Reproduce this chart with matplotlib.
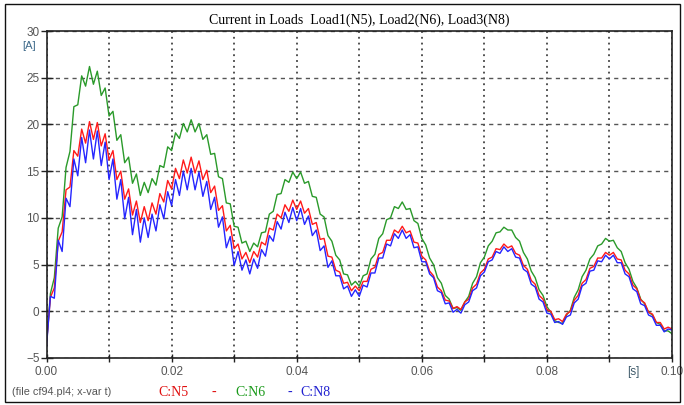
import numpy as np
import matplotlib
matplotlib.use("Agg")
import matplotlib.pyplot as plt
from matplotlib.patches import Rectangle

# samples, one every 0.625 ms from 0 to 0.1 s
sample_period = 0.000625

n6 = [-3.5, 1.9, 3.6, 8.9, 10.1, 15.4, 17.1, 21.9, 22.1, 25.2, 24.1, 26.2, 24.3, 25.7, 23.1, 23.9,
      20.9, 21.4, 18.3, 18.9, 15.9, 16.5, 13.7, 14.7, 12.4, 13.8, 12.7, 14.2, 13.5, 15.6, 15.4, 17.6,
      17.2, 19.1, 18.5, 20.1, 19.2, 20.5, 19.2, 20.1, 18.4, 18.9, 16.8, 16.9, 14.4, 14.2, 11.6, 11.5,
      9.1, 9.0, 7.3, 7.5, 6.4, 7.3, 6.9, 8.4, 8.5, 10.4, 10.7, 12.5, 12.6, 14.1, 13.8, 14.9,
      14.2, 14.9, 13.7, 13.9, 12.3, 12.2, 10.4, 10.1, 8.1, 7.5, 6.0, 5.5, 4.0, 3.9, 2.8, 3.2,
      2.7, 3.8, 4.0, 5.6, 6.1, 7.8, 8.3, 9.8, 10.0, 11.2, 11.0, 11.7, 10.9, 11.0, 9.7, 9.4,
      7.8, 7.1, 5.7, 5.0, 3.6, 3.0, 1.7, 1.3, 0.3, 0.4, 0.1, 1.0, 1.6, 3.0, 3.7, 5.2,
      5.8, 7.0, 7.5, 8.4, 8.5, 9.0, 8.7, 8.7, 7.9, 7.5, 6.3, 5.6, 4.3, 3.6, 2.3, 1.7,
      0.5, -0.1, -1.0, -1.2, -1.3, -0.4, 0.1, 1.5, 2.3, 3.7, 4.4, 5.6, 6.1, 7.0, 7.2, 7.8,
      7.5, 7.6, 6.8, 6.4, 5.2, 4.5, 3.2, 2.5, 1.3, 0.8, -0.1, -0.4, -1.2, -1.4, -2.1, -2.1,
      -2.4]

n5 = [-3.5, 1.5, 2.5, 7.5, 8.5, 13.0, 13.3, 17.2, 16.6, 19.5, 18.0, 20.3, 18.4, 20.2, 17.7, 19.0,
      16.2, 17.2, 14.1, 15.0, 12.0, 13.1, 10.3, 11.8, 9.5, 11.2, 9.7, 11.6, 10.4, 12.6, 11.7, 14.0,
      13.1, 15.3, 14.2, 16.2, 14.8, 16.5, 14.8, 16.1, 14.1, 15.1, 12.7, 13.4, 10.8, 11.3, 8.6, 9.2,
      6.7, 7.2, 5.6, 6.3, 5.2, 6.4, 5.8, 7.4, 7.1, 8.9, 8.7, 10.4, 10.0, 11.4, 10.7, 11.9,
      10.9, 11.8, 10.5, 11.0, 9.3, 9.5, 7.7, 7.8, 5.9, 5.8, 4.4, 4.2, 3.0, 3.1, 2.2, 2.7,
      2.2, 3.2, 3.2, 4.5, 4.7, 6.1, 6.3, 7.6, 7.6, 8.7, 8.4, 9.1, 8.4, 8.6, 7.4, 7.3,
      5.9, 5.5, 4.3, 3.8, 2.6, 2.2, 1.2, 1.1, 0.3, 0.5, 0.2, 1.0, 1.3, 2.5, 2.9, 4.1,
      4.5, 5.6, 5.8, 6.7, 6.6, 7.2, 6.8, 7.0, 6.2, 6.0, 4.9, 4.5, 3.3, 2.9, 1.7, 1.3,
      0.2, 0.0, -0.9, -0.8, -1.1, -0.3, 0.0, 1.2, 1.7, 3.0, 3.4, 4.6, 4.8, 5.7, 5.7, 6.3,
      6.0, 6.3, 5.6, 5.5, 4.4, 4.0, 2.8, 2.4, 1.2, 0.9, -0.1, -0.3, -1.2, -1.2, -1.9, -1.7,
      -1.9]

n8 = [-3.8, 1.6, 1.4, 7.6, 6.4, 12.1, 11.2, 16.3, 14.5, 18.6, 15.9, 19.4, 16.3, 19.3, 15.6, 18.1,
      14.1, 16.3, 12.0, 14.1, 9.9, 12.2, 8.2, 10.9, 7.4, 10.0, 7.9, 10.4, 8.6, 11.4, 9.9, 12.8,
      11.3, 14.1, 12.4, 15.0, 13.0, 15.3, 13.0, 14.9, 12.3, 13.9, 10.9, 12.2, 9.0, 10.1, 6.8, 8.0,
      4.9, 6.4, 4.4, 5.5, 4.0, 5.6, 4.6, 6.6, 5.9, 8.1, 7.5, 9.6, 8.8, 10.6, 9.5, 11.1,
      9.7, 11.0, 9.3, 10.2, 8.1, 8.7, 6.5, 7.0, 4.7, 5.4, 3.8, 3.8, 2.4, 2.7, 1.6, 2.3,
      1.6, 2.8, 2.6, 4.1, 4.1, 5.7, 5.7, 7.2, 7.0, 8.3, 7.8, 8.7, 7.8, 8.2, 6.8, 6.9,
      5.3, 5.3, 4.0, 3.6, 2.2, 2.0, 0.8, 0.9, -0.1, 0.2, -0.2, 0.7, 1.0, 2.2, 2.5, 3.8,
      4.2, 5.3, 5.5, 6.4, 6.2, 6.9, 6.4, 6.7, 5.8, 5.7, 4.5, 4.2, 2.9, 2.6, 1.3, 1.0,
      -0.2, -0.3, -1.2, -1.1, -1.4, -0.6, -0.4, 0.9, 1.3, 2.7, 3.0, 4.3, 4.4, 5.4, 5.3, 6.0,
      5.6, 6.0, 5.2, 5.2, 4.0, 3.7, 2.4, 2.1, 0.8, 0.6, -0.4, -0.6, -1.5, -1.5, -2.2, -1.9,
      -2.0]

t = np.arange(len(n5)) * sample_period

x_ticks = [0.00, 0.01, 0.02, 0.03, 0.04, 0.05, 0.06, 0.07, 0.08, 0.09, 0.10]
x_labels = ["0.00", "", "0.02", "", "0.04", "", "0.06", "", "0.08", "", "0.10"]
y_ticks = [-5, 0, 5, 10, 15, 20, 25, 30]

W, H = 684, 405
fig = plt.figure(figsize=(W / 100, H / 100), dpi=100)
ax = fig.add_axes([46.5 / W, 1 - 358 / H, (672 - 46.5) / W, (358 - 31) / H])

ax.plot(t, n6, color="#2a9a2a", lw=1.0)
ax.plot(t, n5, color="#ff1a1a", lw=1.0)
ax.plot(t, n8, color="#2525ff", lw=1.0)

ax.set_xlim(0, 0.10)
ax.set_ylim(-5, 30)
ax.set_xticks(x_ticks)
ax.set_xticklabels(x_labels)
ax.set_yticks(y_ticks)

ax.xaxis.grid(True, ls=(0, (1.2, 2.6)), color="#222222", lw=1.1)
ax.yaxis.grid(True, ls=(0, (3, 3)), color="#555555", lw=1.0)

for s in ax.spines.values():
    s.set_color("#222222")
    s.set_linewidth(1.2)

ax.tick_params(axis="x", direction="inout", length=6, width=1, pad=3,
               labelsize=8.5, labelcolor="#555555", color="#222222")
ax.tick_params(axis="y", direction="inout", length=8, width=1, pad=1,
               labelsize=8.5, labelcolor="#555555", color="#222222")
for lab in ax.get_xticklabels() + ax.get_yticklabels():
    lab.set_family("Liberation Sans")

ax.set_title("Current in Loads  Load1(N5), Load2(N6), Load3(N8)",
             family="Liberation Serif", fontsize=10, pad=5)

fig.text(22 / W, 1 - 46 / H, "[A]", family="Liberation Sans", fontsize=8,
         color="#3f6a8a", ha="left", va="center")
fig.text(627 / W, 1 - 372 / H, "[s]", family="Liberation Sans", fontsize=8.5,
         color="#3f5a6a", ha="left", va="center")

fy = 1 - 392 / H
fig.text(12 / W, fy, "(file cf94.pl4; x-var t)", family="Liberation Sans",
         fontsize=7.8, color="#555555", va="center")
fig.text(158 / W, fy, "C:N5", family="Liberation Serif", fontsize=10, color="#e01010", va="center")
fig.text(211 / W, fy, "-", family="Liberation Serif", fontsize=10, color="#e01010", va="center")
fig.text(235 / W, fy, "C:N6", family="Liberation Serif", fontsize=10, color="#1a9a1a", va="center")
fig.text(288 / W, fy, "-", family="Liberation Serif", fontsize=10, color="#2020d0", va="center")
fig.text(300 / W, fy, "C:N8", family="Liberation Serif", fontsize=10, color="#2020d0", va="center")

fig.patches.append(Rectangle((5 / W, 3 / H), 675 / W, 398 / H, transform=fig.transFigure,
                             fill=False, edgecolor="#111111", lw=1.0))

fig.savefig("out.png", dpi=100)
